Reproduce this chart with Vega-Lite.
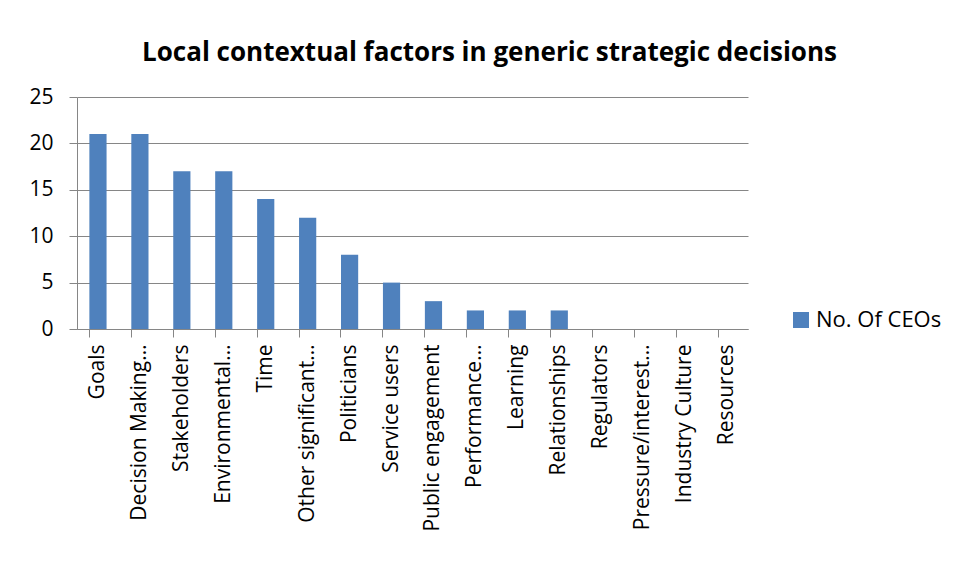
{
  "$schema": "https://vega.github.io/schema/vega-lite/v6.json",
  "width": 671,
  "height": 232,
  "autosize": {"type": "none"},
  "padding": {"left": 77, "top": 97, "right": 208, "bottom": 237},
  "background": "white",
  "title": {
    "text": "Local contextual factors in generic strategic decisions",
    "font": "Open Sans",
    "fontSize": 26,
    "fontWeight": "bold",
    "color": "#000000",
    "anchor": "middle",
    "dx": 77,
    "offset": 20
  },
  "data": {
    "values": [
      {"factor": "Goals", "ceos": 21, "series": "No. Of CEOs"},
      {"factor": "Decision Making…", "ceos": 21, "series": "No. Of CEOs"},
      {"factor": "Stakeholders", "ceos": 17, "series": "No. Of CEOs"},
      {"factor": "Environmental…", "ceos": 17, "series": "No. Of CEOs"},
      {"factor": "Time", "ceos": 14, "series": "No. Of CEOs"},
      {"factor": "Other significant…", "ceos": 12, "series": "No. Of CEOs"},
      {"factor": "Politicians", "ceos": 8, "series": "No. Of CEOs"},
      {"factor": "Service users", "ceos": 5, "series": "No. Of CEOs"},
      {"factor": "Public engagement", "ceos": 3, "series": "No. Of CEOs"},
      {"factor": "Performance…", "ceos": 2, "series": "No. Of CEOs"},
      {"factor": "Learning", "ceos": 2, "series": "No. Of CEOs"},
      {"factor": "Relationships", "ceos": 2, "series": "No. Of CEOs"},
      {"factor": "Regulators", "ceos": 0, "series": "No. Of CEOs"},
      {"factor": "Pressure/interest…", "ceos": 0, "series": "No. Of CEOs"},
      {"factor": "Industry Culture", "ceos": 0, "series": "No. Of CEOs"},
      {"factor": "Resources", "ceos": 0, "series": "No. Of CEOs"}
    ]
  },
  "mark": {"type": "bar"},
  "encoding": {
    "x": {
      "field": "factor",
      "type": "nominal",
      "sort": null,
      "scale": {"paddingInner": 0.59, "paddingOuter": 0.295},
      "axis": {
        "title": null,
        "bandPosition": 0,
        "labelAngle": -90,
        "labelFont": "Open Sans",
        "labelFontSize": 21,
        "labelColor": "#000000",
        "labelPadding": 7,
        "tickSize": 8,
        "tickColor": "#868686",
        "domainColor": "#868686",
        "labelLimit": 300
      }
    },
    "y": {
      "field": "ceos",
      "type": "quantitative",
      "scale": {"domain": [0, 25], "nice": false},
      "axis": {
        "title": null,
        "values": [0, 5, 10, 15, 20, 25],
        "labelFont": "Open Sans",
        "labelFontSize": 21,
        "labelColor": "#000000",
        "labelPadding": 16,
        "tickSize": 8,
        "tickColor": "#868686",
        "domainColor": "#868686",
        "gridColor": "#868686",
        "gridOpacity": 1
      }
    },
    "color": {
      "field": "series",
      "type": "nominal",
      "scale": {"range": ["#4F81BD"]},
      "legend": {
        "title": null,
        "orient": "none",
        "legendX": 713,
        "legendY": 212,
        "symbolType": "square",
        "symbolSize": 256,
        "symbolStrokeWidth": 0,
        "labelFont": "Open Sans",
        "labelFontSize": 22,
        "labelColor": "#000000",
        "labelOffset": 4
      }
    }
  },
  "config": {
    "view": {"stroke": null},
    "axis": {"domainWidth": 1, "tickWidth": 1}
  }
}
